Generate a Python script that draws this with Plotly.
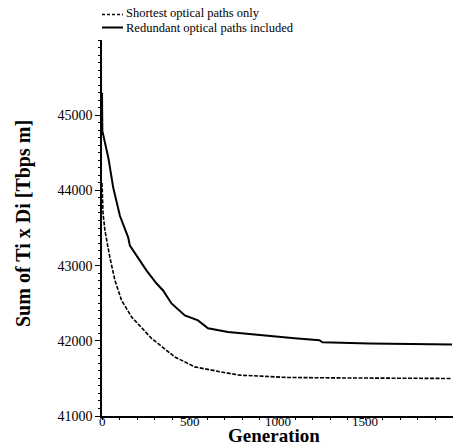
import plotly.graph_objects as go

# Data
gen_shortest = [0, 6, 17, 36, 45, 74, 93, 112, 169, 282, 415, 528, 716, 784, 907, 1049, 1300, 1600, 1994]
val_shortest = [44100, 43690, 43464, 43199, 43106, 42801, 42669, 42536, 42315, 42033, 41785, 41653, 41570, 41543, 41530, 41513, 41507, 41502, 41499]

gen_redundant = [0, 2, 36, 64, 102, 149, 159, 188, 254, 311, 348, 396, 472, 547, 604, 718, 907, 1097, 1239, 1256, 1523, 1994]
val_redundant = [45300, 44790, 44435, 44037, 43662, 43375, 43265, 43159, 42934, 42762, 42669, 42497, 42338, 42272, 42166, 42117, 42073, 42033, 42007, 41980, 41963, 41950]

legend_labels = ["Shortest optical paths only", "Redundant optical paths included"]
y_ticks = [41000, 42000, 43000, 44000, 45000]
x_ticks = [0, 500, 1000, 1500]

FONT = "Liberation Serif"
L, R, T, B = 102, 0, 40, 31
W, H = 453, 447
PW, PH = W - L - R, H - T - B

def px(x):
    return (x - L) / PW

def py(y):
    return (H - B - y) / PH

fig = go.Figure()
fig.add_trace(go.Scatter(x=gen_shortest, y=val_shortest, mode="lines",
                         line=dict(color="black", width=1.6, dash="4px,1.5px"),
                         name=legend_labels[0], showlegend=False))
fig.add_trace(go.Scatter(x=gen_redundant, y=val_redundant, mode="lines",
                         line=dict(color="black", width=2),
                         name=legend_labels[1], showlegend=False))

# Manual legend
fig.add_shape(type="line", xref="paper", yref="paper", x0=px(102), x1=px(123), y0=py(14.5), y1=py(14.5),
              line=dict(color="black", width=1.4, dash="3px,2px"))
fig.add_shape(type="line", xref="paper", yref="paper", x0=px(102), x1=px(123), y0=py(27.5), y1=py(27.5),
              line=dict(color="black", width=2))
fig.add_annotation(xref="paper", yref="paper", x=px(125), y=py(13.5), text=legend_labels[0],
                   showarrow=False, xanchor="left", yanchor="middle", borderpad=0,
                   font=dict(family=FONT, size=12.5, color="black"))
fig.add_annotation(xref="paper", yref="paper", x=px(125), y=py(28), text=legend_labels[1],
                   showarrow=False, xanchor="left", yanchor="middle", borderpad=0,
                   font=dict(family=FONT, size=12.5, color="black"))

# x tick labels placed close under the axis
for xv in x_ticks:
    fig.add_annotation(xref="x", yref="paper", x=xv, y=py(421.5), text=str(xv),
                       showarrow=False, xanchor="center", yanchor="middle", borderpad=0,
                       font=dict(family=FONT, size=13, color="black"))

# Axis titles
fig.add_annotation(xref="paper", yref="paper", x=px(23), y=py(224), text="<b>Sum of Ti x Di [Tbps m]</b>",
                   textangle=-90, showarrow=False, xanchor="center", yanchor="middle",
                   font=dict(family=FONT, size=20, color="black"))
fig.add_annotation(xref="paper", yref="paper", x=px(274), y=py(436), text="<b>Generation</b>",
                   showarrow=False, xanchor="center", yanchor="middle", borderpad=0,
                   font=dict(family=FONT, size=19, color="black"))

fig.update_xaxes(range=[0, 2000], tickvals=x_ticks, showticklabels=False,
                 showgrid=False, zeroline=False, showline=True, linecolor="black", linewidth=1.5,
                 ticks="outside", ticklen=2, tickcolor="black", tickwidth=1,
                 minor=dict(dtick=100, ticks="outside", ticklen=2, tickcolor="black", showgrid=False))
fig.update_yaxes(range=[41000, 46000], tickvals=y_ticks, ticktext=[str(v) for v in y_ticks],
                 showgrid=False, zeroline=False, showline=True, linecolor="black", linewidth=1.5,
                 ticks="outside", ticklen=5, tickcolor="black", tickwidth=1,
                 minor=dict(dtick=100, ticks="outside", ticklen=2, tickcolor="black", showgrid=False),
                 tickfont=dict(family=FONT, size=14, color="black"))

fig.update_layout(width=W, height=H, margin=dict(l=L, r=R, t=T, b=B, autoexpand=False),
                  paper_bgcolor="white", plot_bgcolor="white", showlegend=False)

fig.write_html("out.html")
